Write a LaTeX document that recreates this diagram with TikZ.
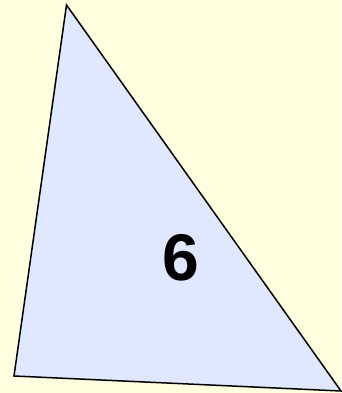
\documentclass[tikz,border=0pt]{standalone}
\usepackage{fontspec}
\setmainfont{Liberation Sans}
\definecolor{bg}{HTML}{FFFFE0}
\definecolor{tri}{HTML}{E0E8FF}
\begin{document}
\begin{tikzpicture}[x=1pt,y=1pt]
\fill[bg] (0,0) rectangle (341,393);
\useasboundingbox (0,0) rectangle (341,393);
\coordinate (A) at (66.5,388);
\coordinate (B) at (14,17);
\coordinate (C) at (341,2);
\draw[fill=tri,line width=1.5pt,line join=miter] (A) -- (B) -- (C) -- cycle;
\node[font=\fontsize{66}{66}\selectfont\bfseries,inner sep=0pt] (n) at (181,135) {6};
\end{tikzpicture}
\end{document}
